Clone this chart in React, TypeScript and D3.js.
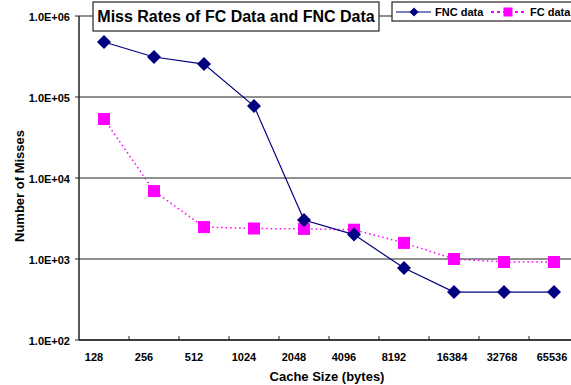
import React from "react";
import * as d3 from "d3";

// Chart data
const cacheSizes = ["128", "256", "512", "1024", "2048", "4096", "8192", "16384", "32768", "65536"];
const fncMisses = [478000, 312000, 255000, 77400, 3030, 2000, 774, 391, 391, 391];
const fcMisses = [53500, 6900, 2480, 2380, 2350, 2300, 1580, 1000, 918, 918];
const yTicks = [1e2, 1e3, 1e4, 1e5, 1e6];

const W = 571;
const H = 385;
const FONT = "'Liberation Sans', Arial, sans-serif";

const fmtTick = (v: number) => {
  const e = Math.round(Math.log10(v));
  return "1.0E+" + String(e).padStart(2, "0");
};

export default function App() {
  const x = d3.scaleBand().domain(cacheSizes).range([79, 579]);
  const y = d3.scaleLog().domain([100, 1e6]).range([340, 16]);
  const cx = (c: string) => (x(c) as number) + x.bandwidth() / 2;

  const line = d3
    .line<number>()
    .x((_, i) => cx(cacheSizes[i]))
    .y((d) => y(d));

  const diamond = (px: number, py: number, r: number) =>
    `M${px},${py - r}L${px + r},${py}L${px},${py + r}L${px - r},${py}Z`;

  return (
    <div style={{ position: "fixed", left: 0, top: 0 }}>
      <svg width={W} height={H} style={{ display: "block", background: "#fff" }} fontFamily={FONT}>
        {/* gridlines */}
        {yTicks.map((t) => (
          <line key={"g" + t} x1={79} x2={W} y1={y(t)} y2={y(t)} stroke="#222" strokeWidth={1} />
        ))}
        {/* y axis */}
        <line x1={79} x2={79} y1={16} y2={340} stroke="#222" strokeWidth={1.5} />
        {yTicks.map((t) => (
          <g key={"t" + t}>
            <line x1={75} x2={79} y1={y(t)} y2={y(t)} stroke="#222" />
            <text x={70} y={y(t) + 4.5} textAnchor="end" fontSize={11} fontWeight="bold">
              {fmtTick(t)}
            </text>
          </g>
        ))}
        {/* x axis */}
        <line x1={79} x2={W} y1={340} y2={340} stroke="#222" strokeWidth={1.5} />
        {cacheSizes.map((c, i) => (
          <g key={"x" + c}>
            {i > 0 && <line x1={x(c)} x2={x(c)} y1={336} y2={340} stroke="#222" />}
            <text
              x={cx(c) + (c.length > 4 ? -2 : -10)}
              y={361}
              textAnchor="middle"
              fontSize={11}
              fontWeight="bold"
            >
              {c}
            </text>
          </g>
        ))}
        <text x={327} y={381} textAnchor="middle" fontSize={13} fontWeight="bold">
          Cache Size (bytes)
        </text>
        <text
          transform="translate(23.5,186) rotate(-90)"
          textAnchor="middle"
          fontSize={13}
          fontWeight="bold"
        >
          Number of Misses
        </text>

        {/* FC series */}
        <path d={line(fcMisses) || ""} fill="none" stroke="#FF00FF" strokeWidth={1.5} strokeDasharray="1.5,3" />
        {fcMisses.map((v, i) => (
          <rect key={"fc" + i} x={cx(cacheSizes[i]) - 6} y={y(v) - 6} width={12} height={12} fill="#FF00FF" />
        ))}
        {/* FNC series */}
        <path d={line(fncMisses) || ""} fill="none" stroke="#000080" strokeWidth={1.2} />
        {fncMisses.map((v, i) => (
          <path key={"fnc" + i} d={diamond(cx(cacheSizes[i]), y(v), 7)} fill="#000080" />
        ))}

        {/* title */}
        <rect x={93} y={2} width={286} height={29} fill="#fff" stroke="#222" strokeWidth={1.2} />
        <text x={236} y={21.5} textAnchor="middle" fontSize={16} fontWeight="bold">
          Miss Rates of FC Data and FNC Data
        </text>

        {/* legend */}
        <rect x={392} y={2} width={190} height={19} fill="#fff" stroke="#222" strokeWidth={1.2} />
        <line x1={396} x2={431} y1={12} y2={12} stroke="#000080" strokeWidth={1.2} />
        <path d={diamond(414, 12, 4.5)} fill="#000080" />
        <text x={435} y={16} fontSize={11} fontWeight="bold">FNC data</text>
        <line x1={491} x2={526} y1={12} y2={12} stroke="#FF00FF" strokeWidth={2} strokeDasharray="3,3" />
        <rect x={503.5} y={7.5} width={9} height={9} fill="#FF00FF" />
        <text x={530} y={16} fontSize={11} fontWeight="bold">FC data</text>
      </svg>
    </div>
  );
}
